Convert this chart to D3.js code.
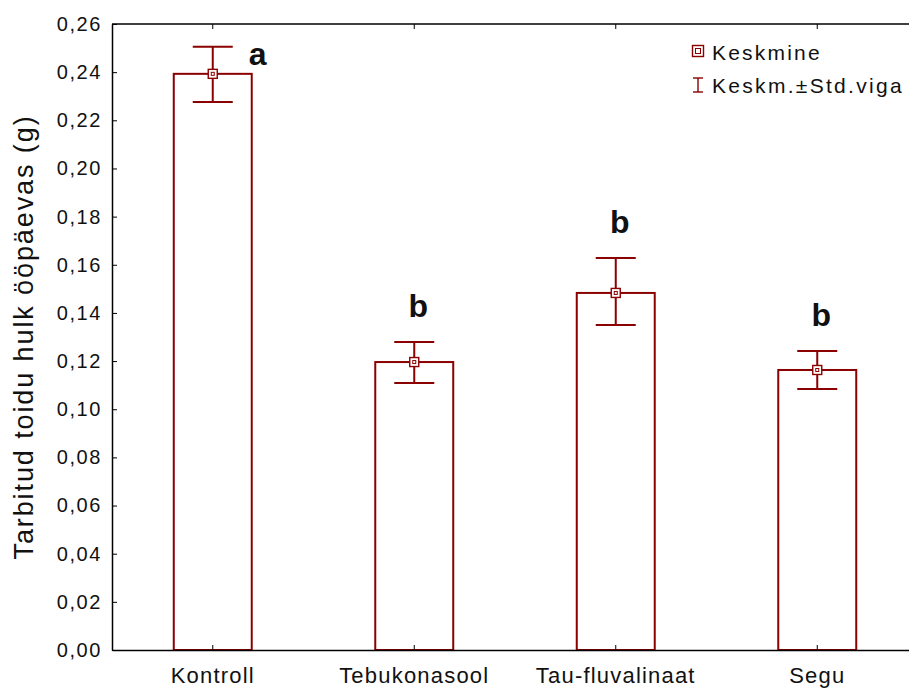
<!DOCTYPE html>
<html>
<head>
<meta charset="utf-8">
<script src="https://cdn.jsdelivr.net/npm/d3@7"></script>
<style>
  body { margin: 0; background: #fff; }
  svg { font-family: "Liberation Sans", Arial, sans-serif; }
</style>
</head>
<body>
<svg id="chart" width="909" height="688"></svg>
<script>
// data
var categories = ["Kontroll", "Tebukonasool", "Tau-fluvalinaat", "Segu"]
var means = [0.2393, 0.1196, 0.1483, 0.1163]
var upper = [0.2505, 0.1279, 0.1628, 0.1242]
var lower = [0.2276, 0.1109, 0.1350, 0.1084]
var letters = ["a", "b", "b", "b"]
var yTicks = [0, 0.02, 0.04, 0.06, 0.08, 0.10, 0.12, 0.14, 0.16, 0.18, 0.20, 0.22, 0.24, 0.26]

var red = "#8b0000"
var svg = d3.select("#chart")

var mLeft = 112, mTop = 24, mBottom = 650, mRight = 918

var x = d3.scaleBand().domain(categories).range([mLeft, mRight]).paddingInner(0.613).paddingOuter(0.3065)
var y = d3.scaleLinear().domain([0, 0.26]).range([mBottom, mTop])
var fmt = function (d) { return d3.format(".2f")(d).replace(".", ",") }

// frame
svg.append("line").attr("x1", mLeft).attr("x2", mRight).attr("y1", mTop).attr("y2", mTop)
  .attr("stroke", "#000").attr("stroke-width", 1.5)

// bars
svg.append("g").selectAll("rect")
  .data(categories)
  .enter().append("rect")
    .attr("x", function (d) { return x(d) })
    .attr("y", function (d, i) { return y(means[i]) })
    .attr("width", x.bandwidth())
    .attr("height", function (d, i) { return mBottom - y(means[i]) })
    .attr("fill", "#fff")
    .attr("stroke", red)
    .attr("stroke-width", 2)

// axes
var yAxis = svg.append("g")
  .attr("transform", "translate(" + mLeft + ",0)")
  .call(d3.axisLeft(y).tickValues(yTicks).tickFormat(fmt).tickSizeInner(-5).tickSizeOuter(0).tickPadding(10))
yAxis.select(".domain").attr("stroke-width", 1.5)
yAxis.selectAll("text").attr("font-size", 20).attr("letter-spacing", 1.6).attr("fill", "#111")

var xAxis = svg.append("g")
  .attr("transform", "translate(0," + mBottom + ")")
  .call(d3.axisBottom(x).tickSizeInner(-5).tickSizeOuter(0).tickPadding(17))
xAxis.select(".domain").attr("stroke-width", 1.5)
xAxis.selectAll("text").attr("font-size", 22).attr("letter-spacing", 1.2).attr("fill", "#111")

// top ticks
svg.append("g").selectAll("line")
  .data(categories)
  .enter().append("line")
    .attr("x1", function (d) { return x(d) + x.bandwidth() / 2 })
    .attr("x2", function (d) { return x(d) + x.bandwidth() / 2 })
    .attr("y1", mTop).attr("y2", mTop + 5)
    .attr("stroke", "#000")

// error bars + mean markers
var eb = svg.append("g").attr("stroke", red).attr("stroke-width", 2)
categories.forEach(function (c, i) {
  var cx = x(c) + x.bandwidth() / 2
  eb.append("line").attr("x1", cx).attr("x2", cx).attr("y1", y(upper[i])).attr("y2", y(lower[i]))
  eb.append("line").attr("x1", cx - 20).attr("x2", cx + 20).attr("y1", y(upper[i])).attr("y2", y(upper[i]))
  eb.append("line").attr("x1", cx - 20).attr("x2", cx + 20).attr("y1", y(lower[i])).attr("y2", y(lower[i]))
  svg.append("rect").attr("x", cx - 4.5).attr("y", y(means[i]) - 4.5).attr("width", 9).attr("height", 9)
    .attr("fill", "#fff").attr("stroke", red).attr("stroke-width", 1.4)
  svg.append("rect").attr("x", cx - 1.5).attr("y", y(means[i]) - 1.5).attr("width", 3).attr("height", 3)
    .attr("fill", "none").attr("stroke", red).attr("stroke-width", 1)
})

// significance letters
svg.append("g").selectAll("text")
  .data(categories)
  .enter().append("text")
    .attr("x", function (d, i) { return i === 0 ? x(d) + x.bandwidth() / 2 + 45 : x(d) + x.bandwidth() / 2 + 4 })
    .attr("y", function (d, i) { return i === 0 ? y(upper[i]) + 18 : y(upper[i]) - 25 })
    .attr("text-anchor", "middle")
    .attr("font-size", 32).attr("font-weight", "bold").attr("fill", "#111")
    .text(function (d, i) { return letters[i] })

// y label
svg.append("text")
  .attr("transform", "translate(33," + (mTop + mBottom) / 2 + ") rotate(-90)")
  .attr("text-anchor", "middle").attr("font-size", 27).attr("letter-spacing", 1.9).attr("fill", "#111")
  .text("Tarbitud toidu hulk ööpäevas (g)")

// legend
var lg = svg.append("g").attr("transform", "translate(698,0)")
lg.append("rect").attr("x", -5.5).attr("y", 45.5).attr("width", 11).attr("height", 11)
  .attr("fill", "#fff").attr("stroke", red).attr("stroke-width", 1.4)
lg.append("rect").attr("x", -2.5).attr("y", 48.5).attr("width", 5).attr("height", 5)
  .attr("fill", "none").attr("stroke", red).attr("stroke-width", 1)
lg.append("text").attr("x", 14).attr("y", 60).attr("font-size", 21).attr("letter-spacing", 2.2).attr("fill", "#111").text("Keskmine")
var eg = lg.append("g").attr("stroke", red).attr("stroke-width", 1.4)
eg.append("line").attr("x1", 0).attr("x2", 0).attr("y1", 78).attr("y2", 92)
eg.append("line").attr("x1", -5).attr("x2", 5).attr("y1", 78).attr("y2", 78)
eg.append("line").attr("x1", -5).attr("x2", 5).attr("y1", 92).attr("y2", 92)
lg.append("text").attr("x", 14).attr("y", 93).attr("font-size", 21).attr("letter-spacing", 2.3).attr("fill", "#111").text("Keskm.±Std.viga")
</script>
</body>
</html>
